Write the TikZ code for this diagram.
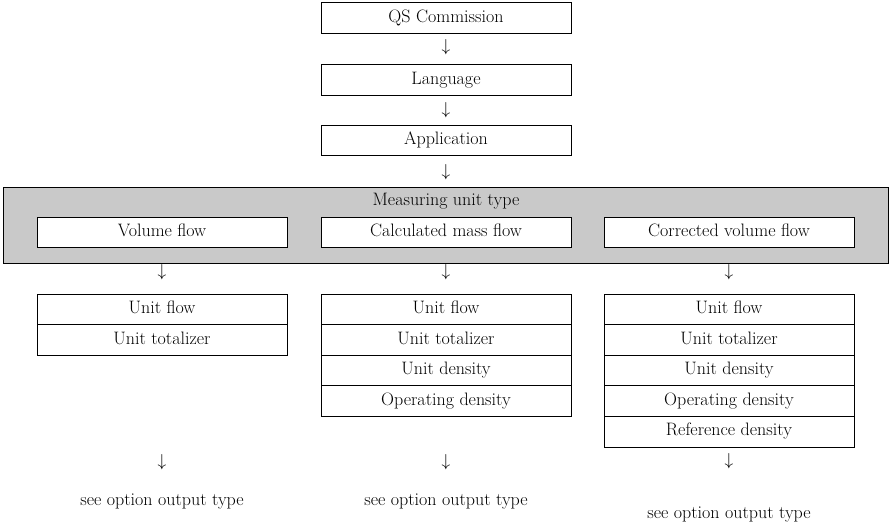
\documentclass[tikz,border=0pt]{standalone}
\usetikzlibrary{positioning}
\begin{document}
\begin{tikzpicture}[x=1pt,y=-1pt,
    every node/.style={font=\fontsize{18}{20}\selectfont, inner sep=0pt},
    box/.style={draw=black, line width=0.8pt, fill=white, outer sep=0pt,
      minimum width=250pt, minimum height=30.6pt, text height=12pt, text depth=3.5pt},
    cell/.style={box, below=0pt of #1}]
  \useasboundingbox (0,0) rectangle (892,526);
  % setup chain
  \node[box] (qs) at (446,18) {QS Commission};
  \node (a1) at (446,47) {$\downarrow$};
  \node[box] (lang) at (446,80) {Language};
  \node (a2) at (446,110) {$\downarrow$};
  \node[box] (app) at (446,140.5) {Application};
  \node (a3) at (446,172) {$\downarrow$};
  % measuring unit type
  \node[draw=black, line width=0.8pt, fill=gray!42, minimum width=885pt, minimum height=76pt] (mut) at (445.5,225) {};
  \node (mutl) at (446,201) {Measuring unit type};
  \node[box] (vol) at (162,232.5) {Volume flow};
  \node[box] (mass) at (446,232.5) {Calculated mass flow};
  \node[box] (corr) at (729,232.5) {Corrected volume flow};
  \node (b1) at (162,272) {$\downarrow$};
  \node (b2) at (446,272) {$\downarrow$};
  \node (b3) at (729,272) {$\downarrow$};
  % volume flow
  \node[box] (v1) at (162,309.3) {Unit flow};
  \node[cell=v1] (v2) {Unit totalizer};
  % calculated mass flow
  \node[box] (m1) at (446,309.3) {Unit flow};
  \node[cell=m1] (m2) {Unit totalizer};
  \node[cell=m2] (m3) {Unit density};
  \node[cell=m3] (m4) {Operating density};
  % corrected volume flow
  \node[box] (c1) at (729,309.3) {Unit flow};
  \node[cell=c1] (c2) {Unit totalizer};
  \node[cell=c2] (c3) {Unit density};
  \node[cell=c3] (c4) {Operating density};
  \node[cell=c4] (c5) {Reference density};
  % output
  \node (d1) at (162,462) {$\downarrow$};
  \node (d2) at (446,462) {$\downarrow$};
  \node (d3) at (729,461) {$\downarrow$};
  \node (o1) at (162,502) {see option output type};
  \node (o2) at (446,502) {see option output type};
  \node (o3) at (729,515) {see option output type};
\end{tikzpicture}
\end{document}
